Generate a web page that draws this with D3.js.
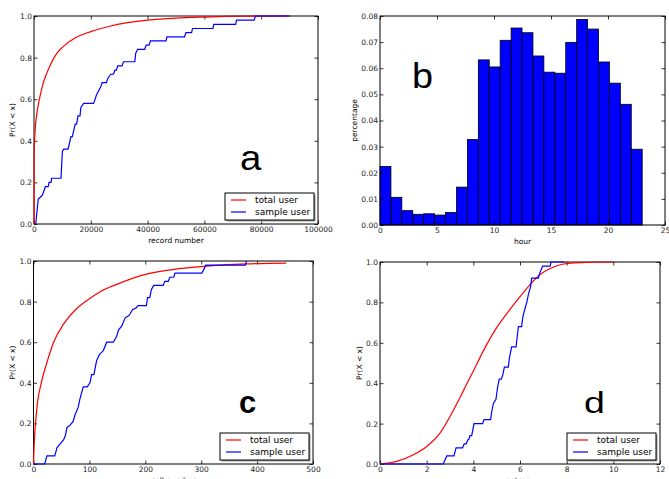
<!DOCTYPE html>
<html>
<head>
<meta charset="utf-8">
<style>
body { margin: 0; background: #fff; }
text { font-family: "DejaVu Sans", sans-serif; }
.tick text { font-size: 7.5px; }
.lbl { font-size: 7.5px; fill: #000; }
.leg text { font-size: 9px; fill: #000; }
.big { font-family: "Liberation Sans", Arial, sans-serif; fill: #000; }
</style>
</head>
<body>
<script src="https://cdn.jsdelivr.net/npm/d3@7"></script>
<script>
var W = 669, H = 479;

// ---- panel a : record number CDF
var aTotalX = [0, 50, 150, 400, 900, 1900, 3300, 5600, 8000, 10300, 14600, 20000, 27000, 33000, 40000, 50000, 60000, 75000, 90000];
var aTotalY = [0, 0.3, 0.38, 0.45, 0.52, 0.6, 0.68, 0.76, 0.82, 0.853, 0.895, 0.925, 0.952, 0.968, 0.98, 0.99, 0.995, 0.999, 1.0];
var aSampleX = [600, 1500, 2300, 3000, 3500, 4000, 5000, 5300, 6000, 6200, 9500, 10000, 10500, 12000, 13000, 13500, 14500, 15000, 15500, 16200, 16500, 17500, 21000, 22000, 23500, 24000, 25500, 26000, 27000, 28000, 28500, 29000, 29500, 31000, 31500, 35500, 35800, 36500, 39000, 39500, 40500, 41000, 46500, 46800, 53000, 53500, 55500, 55800, 63000, 63300, 71000, 71300, 77500, 78000, 90000];
var aSampleY = [0, 0.12, 0.13, 0.14, 0.16, 0.18, 0.18, 0.2, 0.2, 0.22, 0.22, 0.35, 0.36, 0.36, 0.42, 0.42, 0.48, 0.48, 0.52, 0.52, 0.56, 0.58, 0.58, 0.62, 0.66, 0.68, 0.68, 0.7, 0.72, 0.72, 0.74, 0.74, 0.76, 0.76, 0.78, 0.78, 0.82, 0.84, 0.84, 0.86, 0.86, 0.88, 0.88, 0.9, 0.9, 0.92, 0.92, 0.94, 0.94, 0.96, 0.96, 0.98, 0.98, 1.0, 1.0];
var aXTicks = [0, 20000, 40000, 60000, 80000, 100000];

// ---- panel b : hourly histogram (24 bins over 0..23)
var bPct = [0.0224, 0.0106, 0.0055, 0.0041, 0.0043, 0.0038, 0.0048, 0.0145, 0.0327, 0.0632, 0.0605, 0.0707, 0.0754, 0.0736, 0.0647, 0.0585, 0.0581, 0.0699, 0.0787, 0.0750, 0.0624, 0.0543, 0.0462, 0.0290];
var bXTicks = [0, 5, 10, 15, 20, 25];
var bYTicks = [0, 0.01, 0.02, 0.03, 0.04, 0.05, 0.06, 0.07, 0.08];

// ---- panel c : call number CDF
var cTotalX = [0, 1, 2, 3.6, 7, 14, 24, 36, 54, 75, 93, 120, 149, 202, 260, 320, 380, 452];
var cTotalY = [0, 0.08, 0.14, 0.2, 0.3, 0.4, 0.5, 0.6, 0.69, 0.76, 0.8, 0.85, 0.885, 0.935, 0.962, 0.977, 0.986, 0.99];
var cSampleX = [0, 20, 24, 38, 42, 48, 54, 57, 60, 65, 71, 74, 80, 83, 89, 96, 101, 104, 108, 113, 118, 122, 125, 131, 143, 149, 152, 158, 164, 170, 173, 177, 184, 187, 202, 204, 208, 211, 215, 232, 235, 241, 244, 251, 253, 301, 305, 308, 379, 381];
var cSampleY = [0, 0, 0.04, 0.04, 0.08, 0.1, 0.12, 0.14, 0.18, 0.19, 0.21, 0.24, 0.28, 0.32, 0.38, 0.38, 0.4, 0.44, 0.44, 0.51, 0.54, 0.55, 0.56, 0.6, 0.6, 0.63, 0.66, 0.68, 0.72, 0.73, 0.74, 0.76, 0.77, 0.78, 0.78, 0.82, 0.82, 0.86, 0.88, 0.88, 0.9, 0.9, 0.92, 0.92, 0.94, 0.94, 0.96, 0.98, 0.98, 1.0];
var cXTicks = [0, 100, 200, 300, 400, 500];

// ---- panel d : entropy CDF
var dTotalX = [0, 0.71, 1.43, 2.0, 2.57, 3.0, 3.29, 3.57, 4.0, 4.43, 5.0, 5.57, 6.0, 6.43, 6.86, 7.29, 7.86, 8.57, 10];
var dTotalY = [0, 0.013, 0.046, 0.087, 0.153, 0.235, 0.298, 0.362, 0.46, 0.56, 0.675, 0.765, 0.828, 0.888, 0.938, 0.968, 0.99, 0.997, 1.0];
var dSampleX = [0, 2.71, 2.86, 3.17, 3.26, 3.54, 3.61, 3.7, 3.76, 3.8, 3.86, 3.93, 4.03, 4.4, 4.46, 4.74, 4.79, 4.86, 4.97, 5.04, 5.11, 5.2, 5.26, 5.33, 5.5, 5.54, 5.64, 5.83, 5.89, 5.93, 6.07, 6.11, 6.19, 6.29, 6.36, 6.46, 6.5, 6.79, 6.83, 6.97, 7.29, 7.33, 7.9];
var dSampleY = [0, 0, 0.04, 0.04, 0.08, 0.08, 0.1, 0.1, 0.12, 0.12, 0.14, 0.14, 0.2, 0.2, 0.22, 0.22, 0.26, 0.3, 0.32, 0.38, 0.42, 0.42, 0.44, 0.48, 0.48, 0.52, 0.58, 0.58, 0.64, 0.68, 0.68, 0.72, 0.76, 0.8, 0.84, 0.88, 0.92, 0.92, 0.94, 0.98, 0.98, 1.0, 1.0];
var dXTicks = [0, 2, 4, 6, 8, 10, 12];

var cdfYTicks = [0, 0.2, 0.4, 0.6, 0.8, 1.0];
var legendNames = ["total user", "sample user"];
var lineColors = ["#ff0000", "#0000ff"];

var svg = d3.select("body").append("svg")
	.attr("width", W)
	.attr("height", H);

// axes frame with inward ticks on all four sides
function frame(box, x, y, xTicks, yTicks, xFmt, yFmt, xLabel, yLabel, yLabelX) {
	var g = svg.append("g").style("color", "#000");
	var h = box.bottom - box.top, w = box.right - box.left;

	g.append("g").attr("transform", "translate(0," + box.bottom + ")")
		.call(d3.axisBottom(x).tickValues(xTicks).tickFormat(xFmt).tickSizeInner(-3.5).tickSizeOuter(0).tickPadding(3));
	g.append("g").attr("transform", "translate(0," + box.top + ")")
		.call(d3.axisTop(x).tickValues(xTicks).tickFormat("").tickSizeInner(-3.5).tickSizeOuter(0));
	g.append("g").attr("transform", "translate(" + box.left + ",0)")
		.call(d3.axisLeft(y).tickValues(yTicks).tickFormat(yFmt).tickSizeInner(-3.5).tickSizeOuter(0).tickPadding(2));
	g.append("g").attr("transform", "translate(" + box.right + ",0)")
		.call(d3.axisRight(y).tickValues(yTicks).tickFormat("").tickSizeInner(-3.5).tickSizeOuter(0));
	g.selectAll(".domain").remove();
	g.selectAll(".tick line").attr("stroke-width", 0.8);
	g.selectAll(".tick text").attr("fill", "#222");

	g.append("rect")
		.attr("x", box.left).attr("y", box.top)
		.attr("width", w).attr("height", h)
		.attr("fill", "none").attr("stroke", "#000").attr("stroke-width", 1);

	svg.append("text").attr("class", "lbl")
		.attr("x", (box.left + box.right) / 2)
		.attr("y", box.bottom + 19)
		.attr("text-anchor", "middle")
		.text(xLabel);
	svg.append("text").attr("class", "lbl")
		.attr("transform", "translate(" + yLabelX + "," + ((box.top + box.bottom) / 2) + ") rotate(-90)")
		.attr("text-anchor", "middle")
		.text(yLabel);
}

function legend(box) {
	var lw = 89, lh = 27;
	var lx = box.right - 4 - lw, ly = box.bottom - 4 - lh;
	var g = svg.append("g").attr("class", "leg");
	g.append("rect").attr("x", lx + 1.5).attr("y", ly + 1.5)
		.attr("width", lw).attr("height", lh).attr("fill", "#999");
	g.append("rect").attr("x", lx).attr("y", ly)
		.attr("width", lw).attr("height", lh)
		.attr("fill", "#fff").attr("stroke", "#000").attr("stroke-width", 1);
	legendNames.forEach(function(name, i) {
		var yy = ly + 7 + i * 12;
		g.append("line")
			.attr("x1", lx + 6).attr("x2", lx + 21)
			.attr("y1", yy).attr("y2", yy)
			.attr("stroke", lineColors[i]).attr("stroke-width", 1.2);
		g.append("text")
			.attr("x", lx + 30).attr("y", yy + 3.3)
			.text(name);
	});
}

function cdfPanel(box, xDomain, xTicks, totalX, totalY, sampleX, sampleY, xLabel, yLabelX) {
	var x = d3.scaleLinear().domain(xDomain).range([box.left, box.right]);
	var y = d3.scaleLinear().domain([0, 1]).range([box.bottom, box.top]);

	var smooth = d3.line()
		.x(function(d) { return x(d[0]); })
		.y(function(d) { return y(d[1]); })
		.curve(d3.curveMonotoneX);
	var straight = d3.line()
		.x(function(d) { return x(d[0]); })
		.y(function(d) { return y(d[1]); });

	frame(box, x, y, xTicks, cdfYTicks, d3.format("d"), d3.format(".1f"), xLabel, "Pr(X < x)", yLabelX);

	svg.append("path")
		.datum(d3.zip(totalX, totalY))
		.attr("d", smooth)
		.attr("fill", "none").attr("stroke", lineColors[0]).attr("stroke-width", 1.2);
	svg.append("path")
		.datum(d3.zip(sampleX, sampleY))
		.attr("d", straight)
		.attr("fill", "none").attr("stroke", lineColors[1]).attr("stroke-width", 1.2);

	legend(box);
}

// a
var boxA = { left: 34, right: 318, top: 16, bottom: 224 };
cdfPanel(boxA, [0, 100000], aXTicks, aTotalX, aTotalY, aSampleX, aSampleY, "record number", 15);

// b
var boxB = { left: 380, right: 665, top: 16, bottom: 225 };
var xb = d3.scaleLinear().domain([0, 25]).range([boxB.left, boxB.right]);
var yb = d3.scaleLinear().domain([0, 0.08]).range([boxB.bottom, boxB.top]);
var binW = 23 / bPct.length;
svg.append("g").selectAll("rect")
	.data(bPct)
	.enter()
	.append("rect")
	.attr("x", function(d, i) { return xb(i * binW); })
	.attr("y", function(d) { return yb(d); })
	.attr("width", function(d, i) { return xb((i + 1) * binW) - xb(i * binW); })
	.attr("height", function(d) { return yb(0) - yb(d); })
	.attr("fill", "#0000ff")
	.attr("stroke", "#000")
	.attr("stroke-width", 0.8);
frame(boxB, xb, yb, bXTicks, bYTicks, d3.format("d"), d3.format(".2f"), "hour", "percentage", 357);

// c
var boxC = { left: 33.5, right: 313, top: 261, bottom: 464 };
cdfPanel(boxC, [0, 500], cXTicks, cTotalX, cTotalY, cSampleX, cSampleY, "call number", 15);

// d
var boxD = { left: 380, right: 660, top: 262, bottom: 464 };
cdfPanel(boxD, [0, 12], dXTicks, dTotalX, dTotalY, dSampleX, dSampleY, "entropy", 362);

// panel letters
var letters = [
	{ t: "a", x: 240, y: 170, s: 35, sx: 1.1, w: "normal" },
	{ t: "b", x: 412, y: 88, s: 35, sx: 1.08, w: "normal" },
	{ t: "c", x: 239, y: 413, s: 31, sx: 1.0, w: "bold" },
	{ t: "d", x: 584, y: 413, s: 30, sx: 1.25, w: "normal" }
];
svg.selectAll("text.big")
	.data(letters)
	.enter()
	.append("text")
	.attr("class", "big")
	.attr("transform", function(d) { return "translate(" + d.x + "," + d.y + ") scale(" + d.sx + ",1)"; })
	.attr("font-size", function(d) { return d.s; })
	.attr("font-weight", function(d) { return d.w; })
	.text(function(d) { return d.t; });
</script>
</body>
</html>
